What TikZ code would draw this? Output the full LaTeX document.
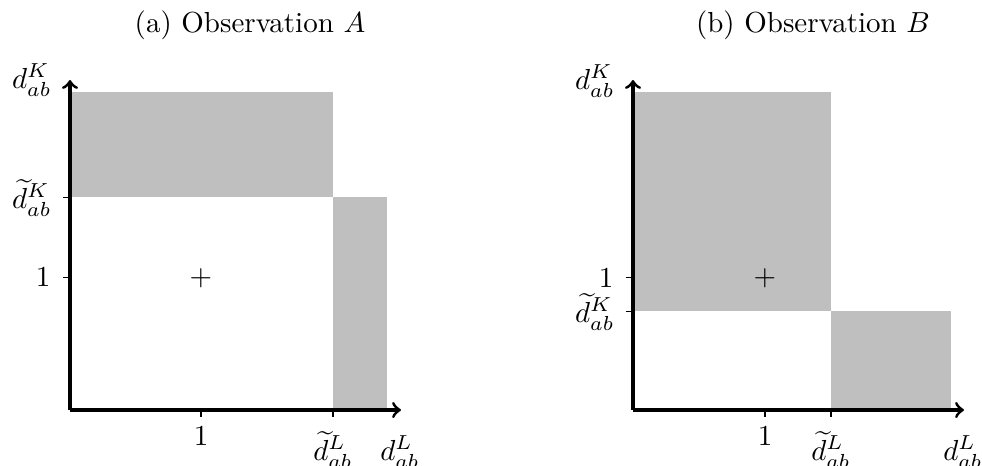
\documentclass[tikz,border=0pt]{standalone}
\usepackage{amsmath}
\begin{document}
\begin{tikzpicture}[x=0.345pt,y=-0.345pt,
  axis/.style={line width=1.05pt,->},
  tickmark/.style={line width=0.35pt},
  region/.style={fill=lightgray},
  lab/.style={inner sep=0pt}]
\useasboundingbox (0,0) rectangle (982,465);
% ---------- panel (a)
\node[lab] (ta) at (250,25) {(a) Observation $A$};
\fill[region] (70,92) rectangle (333,197);
\fill[region] (333,197) rectangle (387,410);
\coordinate (Oa) at (70,410);
\coordinate (Ya) at (70,80);
\coordinate (Xa) at (401,410);
\draw[tickmark] (63,197) -- (70,197);
\draw[tickmark] (63,277) -- (70,277);
\draw[tickmark] (201,410) -- (201,417);
\draw[tickmark] (333,410) -- (333,417);
\draw[axis] (Oa) -- (Ya);
\draw[axis] (Oa) -- (Xa);
\node[lab,anchor=east] (ka) at (52,80) {$d^K_{ab}$};
\node[lab,anchor=east] (kta) at (52,198) {$\widetilde{d}^K_{ab}$};
\node[lab] (ya) at (43,277) {$1$};
\node[lab,anchor=base] (xa) at (201,445) {$1$};
\node[lab,anchor=base] (lta) at (333,460) {$\widetilde{d}^L_{ab}$};
\node[lab,anchor=base] (la) at (400,460) {$d^L_{ab}$};
\node[lab] (ca) at (201,278) {$+$};
% ---------- panel (b)
\node[lab] (tb) at (813,25) {(b) Observation $B$};
\fill[region] (633,92) rectangle (831,311);
\fill[region] (831,311) rectangle (951,410);
\coordinate (Ob) at (633,410);
\coordinate (Yb) at (633,80);
\coordinate (Xb) at (964,410);
\draw[tickmark] (626,277) -- (633,277);
\draw[tickmark] (626,311) -- (633,311);
\draw[tickmark] (765,410) -- (765,417);
\draw[tickmark] (831,410) -- (831,417);
\draw[axis] (Ob) -- (Yb);
\draw[axis] (Ob) -- (Xb);
\node[lab,anchor=east] (kb) at (615,81) {$d^K_{ab}$};
\node[lab,anchor=east] (ktb) at (615,312) {$\widetilde{d}^K_{ab}$};
\node[lab] (yb) at (606,278) {$1$};
\node[lab,anchor=base] (xb) at (765,445) {$1$};
\node[lab,anchor=base] (ltb) at (831,460) {$\widetilde{d}^L_{ab}$};
\node[lab,anchor=base] (lb) at (963,460) {$d^L_{ab}$};
\node[lab] (cb) at (765,278) {$+$};
\end{tikzpicture}
\end{document}
